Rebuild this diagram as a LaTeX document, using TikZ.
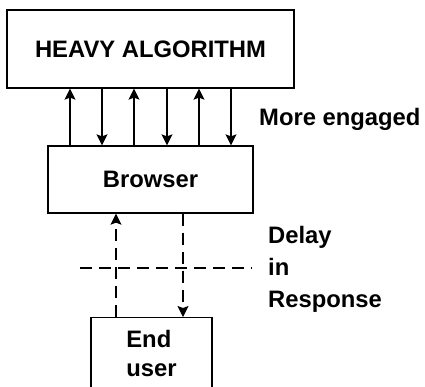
\documentclass[tikz,border=0pt]{standalone}
\usepackage{fontspec}
\setmainfont{Liberation Sans}
\usetikzlibrary{arrows.meta}

\begin{document}
\begin{tikzpicture}[
  x=1pt, y=1pt,
  font=\fontsize{23.8}{29}\selectfont\bfseries,
  box/.style={draw, line width=1.3pt, inner sep=0pt},
  lbl/.style={inner sep=0pt, align=left},
  link/.style={line width=1.3pt, -{Stealth[length=11pt, width=11pt, inset=2pt]}},
  delay/.style={link, dash pattern=on 12pt off 7pt}
]
\useasboundingbox (0,0) rectangle (425,-386);

\node[box, minimum width=287pt, minimum height=78pt] (alg) at (150.5,-49) {HEAVY ALGORITHM};
\node[box, minimum width=205pt, minimum height=67pt] (brw) at (150.5,-179.5) {Browser};
\node[box, lbl, minimum width=121pt, minimum height=72pt, anchor=north] (usr) at (151.5,-317) {End\\user};

% engaged traffic
\foreach \x in {70,134,199}
  \draw[link] (brw.north -| \x,0) -- (alg.south -| \x,0);
\foreach \x in {102,167,231}
  \draw[link] (alg.south -| \x,0) -- (brw.north -| \x,0);
\node[lbl, anchor=base west] (eng) at (259,-125) {More engaged};

% slow response
\draw[delay] (usr.north -| 116,0) -- (brw.south -| 116,0);
\draw[delay] (brw.south -| 183,0) -- (usr.north -| 183,0);
\coordinate (cutl) at (80,-268);
\coordinate (cutr) at (252,-268);
\draw[line width=1.3pt, dash pattern=on 12pt off 7pt] (cutl) -- (cutr);
\node[lbl, anchor=base west, font=\fontsize{23.8}{32}\selectfont\bfseries] (dly) at (268,-307) {Delay\\in\\Response};

\end{tikzpicture}
\end{document}
